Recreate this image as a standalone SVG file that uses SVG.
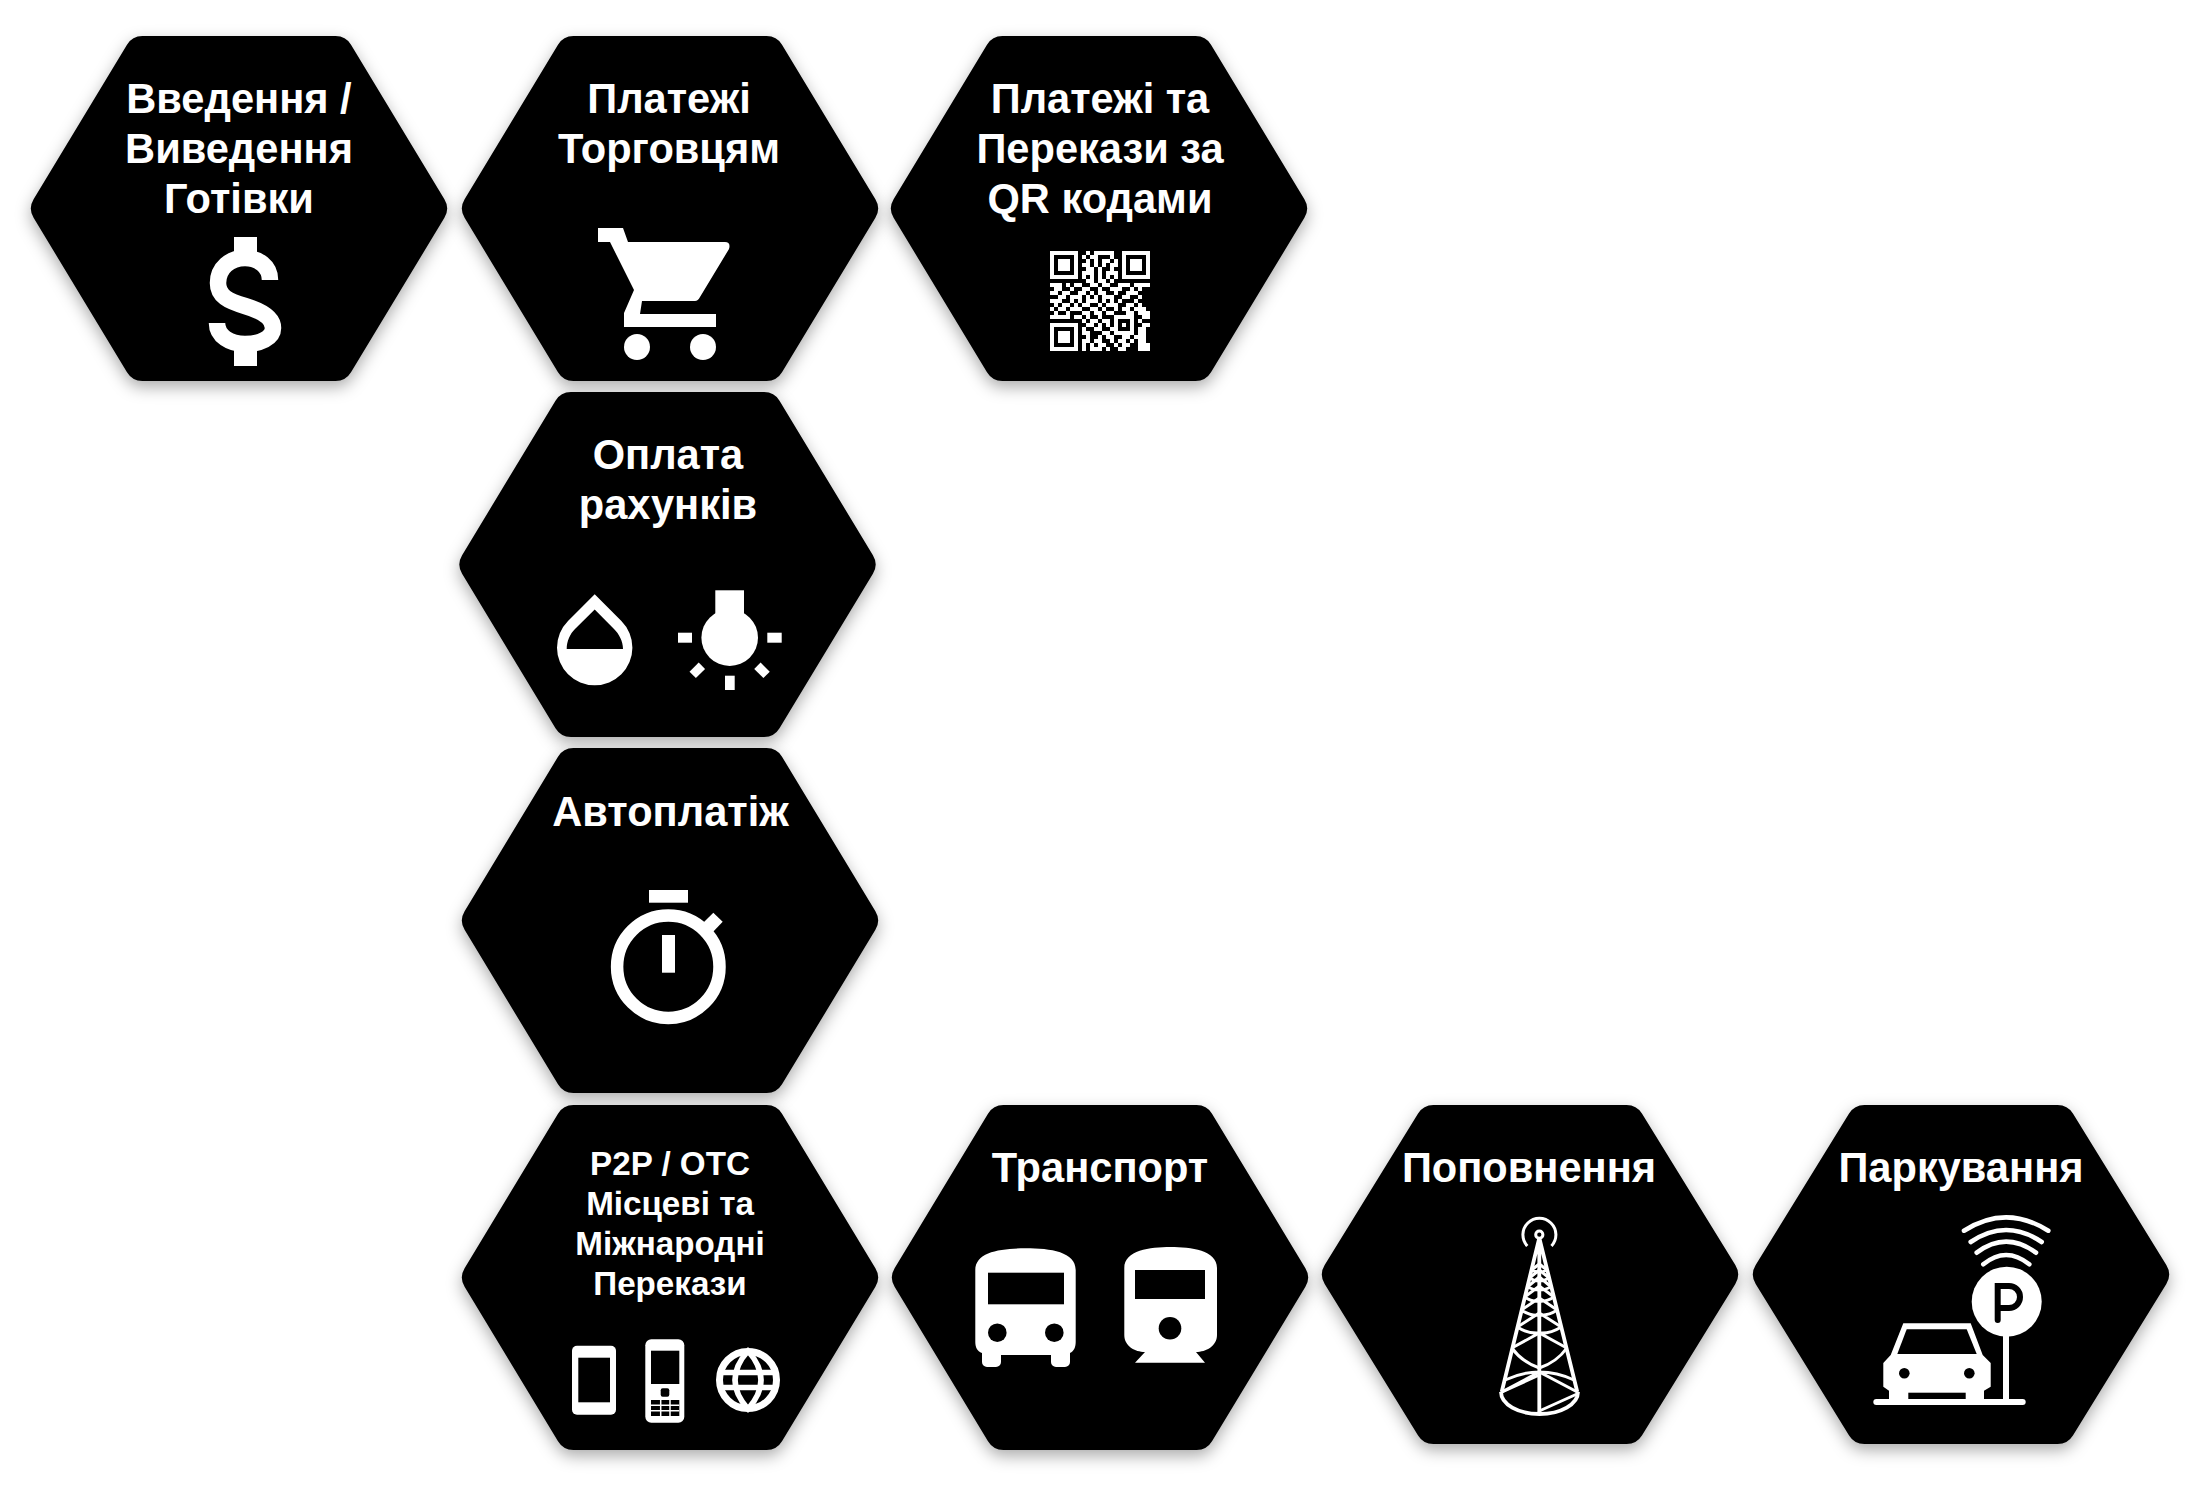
<svg xmlns="http://www.w3.org/2000/svg" width="2209" height="1494" viewBox="0 0 2209 1494">
<style>
.t{font-family:"Liberation Sans",Arial,sans-serif;font-weight:700;font-size:41.6px;fill:#fff;text-anchor:middle}
.s{font-size:33.2px}
.w{fill:#fff}
.k{fill:#000}
.hex{fill:#000;stroke:#000;stroke-width:36;stroke-linejoin:round;filter:url(#sh)}
.ln{fill:none;stroke:#fff}
</style>
<defs>
<filter id="sh" x="-15%" y="-15%" width="130%" height="135%"><feDropShadow dx="0" dy="6" stdDeviation="8" flood-color="#000" flood-opacity=".33"/></filter>
<polygon id="hexA" points="18,172.5 111.4,18 304.6,18 398,172.5 304.6,327 111.4,327"/>
<polygon id="hexB" points="18,169.5 111.4,18 304.6,18 398,169.5 304.6,321 111.4,321"/>
</defs>
<rect width="2209" height="1494" fill="#fff"/>
<g id="connectors"/>

<g id="n-cash">
<use href="#hexA" class="hex" x="31" y="36"/>
<text class="t" x="239" y="113">Введення /</text>
<text class="t" x="239" y="163">Виведення</text>
<text class="t" x="239" y="213">Готівки</text>
<rect class="w" x="234" y="237" width="23" height="19"/>
<rect class="w" x="234" y="347" width="23" height="19"/>
<path class="ln" stroke-width="16.5" d="M270 280C270 266 258 258 245 258C230 258 218 268 218 283C218 296 228 301 245 306C262 311 273 318 273 328C273 338 260 344 245 344C230 344 217 336 217 323"/>
</g>

<g id="n-merchant">
<use href="#hexA" class="hex" x="462" y="36"/>
<text class="t" x="669" y="113">Платежі</text>
<text class="t" x="669" y="163">Торговцям</text>
<path class="w" d="M598 228H623L628 242H725Q731 242 729 249L700 297Q698 301 695 301H642L640 314H716V327H624V313L634 290L610 242H598Z"/>
<circle class="w" cx="637" cy="347" r="13"/>
<circle class="w" cx="703" cy="347" r="13"/>
</g>

<g id="n-qr">
<use href="#hexA" class="hex" x="891" y="36"/>
<text class="t" x="1100" y="113">Платежі та</text>
<text class="t" x="1100" y="163">Перекази за</text>
<text class="t" x="1100" y="213">QR кодами</text>
<g transform="translate(1050 251) scale(4)" shape-rendering="crispEdges">
<path class="w" fill-rule="evenodd" d="M0 0h7v7h-7zM1 1v5h5v-5zM2 2h3v3h-3zM18 0h7v7h-7zM19 1v5h5v-5zM20 2h3v3h-3zM0 18h7v7h-7zM1 19v5h5v-5zM2 20h3v3h-3zM16 16h5v5h-5zM17 17v3h3v-3zM18 18h1v1h-1z"/>
<path class="ln" stroke-width="1" d="M9 .5h1M11 .5h5M8 1.5h1M10 1.5h2M15 1.5h1M9 2.5h1M11 2.5h1M13 2.5h2M16 2.5h1M8 3.5h2M11 3.5h1M13 3.5h1M15 3.5h2M9 4.5h2M12 4.5h1M15 4.5h1M8 5.5h3M12 5.5h1M14 5.5h3M8 6.5h1M10 6.5h1M12 6.5h1M14 6.5h1M16 6.5h1M9 7.5h2M12 7.5h2M15 7.5h1M0 8.5h3M4 8.5h1M6 8.5h2M10 8.5h2M13 8.5h2M17 8.5h3M21 8.5h4M1 9.5h2M5 9.5h1M8 9.5h2M12 9.5h1M15 9.5h3M20 9.5h1M22 9.5h1M0 10.5h2M3 10.5h2M7 10.5h2M10 10.5h1M12 10.5h2M16 10.5h1M19 10.5h3M2 11.5h2M5 11.5h3M9 11.5h1M11 11.5h1M13 11.5h3M18 11.5h2M22 11.5h1M0 12.5h3M5 12.5h1M7 12.5h1M9 12.5h3M13 12.5h1M15 12.5h1M17 12.5h1M21 12.5h1M1 13.5h1M3 13.5h2M6 13.5h1M8 13.5h2M12 13.5h1M14 13.5h3M19 13.5h2M22 13.5h1M0 14.5h1M2 14.5h2M5 14.5h3M10 14.5h2M13 14.5h1M16 14.5h1M18 14.5h2M21 14.5h3M1 15.5h1M4 15.5h1M8 15.5h2M11 15.5h2M14 15.5h2M19 15.5h2M22 15.5h3M0 16.5h5M6 16.5h2M9 16.5h1M12 16.5h1M23 16.5h2M8 17.5h1M10 17.5h2M13 17.5h2M22 17.5h1M9 18.5h2M12 18.5h1M14 18.5h1M23 18.5h2M8 19.5h1M11 19.5h2M15 19.5h1M22 19.5h2M8 20.5h2M13 20.5h2M22 20.5h2M9 21.5h1M12 21.5h1M14 21.5h2M18 21.5h2M21 21.5h3M8 22.5h2M11 22.5h2M15 22.5h1M17 22.5h2M20 22.5h1M22 22.5h2M8 23.5h1M10 23.5h1M12 23.5h2M16 23.5h1M18 23.5h2M22 23.5h3M8 24.5h1M10 24.5h3M14 24.5h1M17 24.5h2M22 24.5h3"/>
</g>
</g>

<g id="n-bills">
<use href="#hexA" class="hex" x="459.5" y="392"/>
<text class="t" x="668" y="469">Оплата</text>
<text class="t" x="668" y="519">рахунків</text>
<path class="w" fill-rule="evenodd" d="M594.7 594.3L568 621A37.7 37.7 0 1 0 621.4 621ZM594.7 609.5L575 629C570 634 566.7 641 566.7 649H623C623 641 619 634 614 629Z"/>
<rect class="w" x="715.3" y="590.3" width="28.7" height="24"/>
<circle class="w" cx="729.7" cy="637.7" r="28.3"/>
<rect class="w" x="678" y="632.7" width="14" height="10"/>
<rect class="w" x="767.3" y="632.7" width="14.4" height="10"/>
<rect class="w" x="725" y="675.7" width="9.7" height="14.3"/>
<rect class="w" x="-6.5" y="-4.5" width="13" height="9" transform="translate(697.3 670.3) rotate(-45)"/>
<rect class="w" x="-6.5" y="-4.5" width="13" height="9" transform="translate(762 670.3) rotate(45)"/>
</g>

<g id="n-auto">
<use href="#hexA" class="hex" x="462" y="748"/>
<text class="t" x="670.5" y="825.5">Автоплатіж</text>
<rect class="w" x="649" y="890" width="39" height="12.7"/>
<circle class="ln" stroke-width="12.5" cx="668.3" cy="966.7" r="51.2"/>
<rect class="w" x="662" y="935" width="13" height="37.7"/>
<polygon class="w" points="713.3,912.7 722.7,921.7 710,935 700,926"/>
</g>

<g id="n-p2p">
<use href="#hexA" class="hex" x="462" y="1105"/>
<text class="t s" x="670" y="1175">P2P / OTC</text>
<text class="t s" x="670" y="1215">Місцеві та</text>
<text class="t s" x="670" y="1255">Міжнародні</text>
<text class="t s" x="670" y="1295">Перекази</text>
<rect class="w" x="572" y="1345.7" width="44" height="69" rx="5"/>
<rect class="k" x="578.3" y="1357.7" width="31.7" height="44.6"/>
<rect class="w" x="645.3" y="1339.3" width="39" height="83.4" rx="6"/>
<rect class="k" x="651" y="1350.7" width="28.3" height="33.3"/>
<rect class="k" x="660.7" y="1388.3" width="8.6" height="8.4" rx="2"/>
<rect class="k" x="651" y="1400" width="28.3" height="16"/>
<path class="ln" stroke-width="1.5" d="M651 1405.3H679.3M651 1410.7H679.3M660.7 1400V1416M670 1400V1416"/>
<circle class="ln" stroke-width="7" cx="748" cy="1380" r="28.5"/>
<path class="ln" stroke-width="5.5" d="M722 1372.5H774M722 1387.5H774M748 1351Q722 1380 748 1409Q774 1380 748 1351Z"/>
</g>

<g id="n-transport">
<use href="#hexA" class="hex" x="892" y="1105"/>
<text class="t" x="1100" y="1181.5">Транспорт</text>
<path class="w" d="M975.3 1270C975.3 1252 1000 1248.3 1025.5 1248.3C1051 1248.3 1075.7 1252 1075.7 1270V1342C1075.7 1347 1074 1351 1070 1353V1362a5 5 0 0 1-5 5h-9a5 5 0 0 1-5-5V1355H1001V1362a5 5 0 0 1-5 5h-9a5 5 0 0 1-5-5V1353C977 1351 975.3 1347 975.3 1342Z"/>
<rect class="k" x="988" y="1272.7" width="76" height="31.6"/>
<circle class="k" cx="997.3" cy="1332.7" r="9.3"/>
<circle class="k" cx="1054.3" cy="1332.7" r="9.3"/>
<path class="w" d="M1124.3 1268C1124.3 1250 1150 1247 1170.5 1247C1191 1247 1217 1250 1217 1268V1335C1217 1346 1206 1352 1196 1352L1205 1362.7H1135L1145 1352C1135 1352 1124.3 1346 1124.3 1335Z"/>
<rect class="k" x="1135" y="1270" width="70" height="29"/>
<circle class="k" cx="1170" cy="1328.3" r="11.3"/>
</g>

<g id="n-topup">
<use href="#hexB" class="hex" x="1322" y="1105"/>
<text class="t" x="1529" y="1181.5">Поповнення</text>
<circle class="ln" stroke-width="3" cx="1539.3" cy="1234.7" r="3.6"/>
<path class="ln" stroke-width="3" d="M1527.3 1246A16.5 16.5 0 1 1 1551.5 1246"/>
<path class="ln" stroke-width="3.8" d="M1539.3 1238L1501.7 1392M1539.3 1238L1577.3 1392M1539.3 1238V1412M1501 1392A38.5 22 0 0 0 1578 1392"/>
<path class="ln" stroke-width="3" d="M1501.7 1392L1539.3 1372L1577.3 1392M1505 1380Q1522 1372 1539.3 1372Q1557 1372 1574 1380M1511.8 1348L1539.3 1333L1566.8 1348M1511.8 1348Q1522 1362 1539.3 1368Q1557 1362 1566.8 1348M1517.3 1327L1539.3 1313L1561.3 1327M1517.3 1327Q1528 1334 1539.3 1333Q1550 1334 1561.3 1327M1521.3 1310L1539.3 1298L1557.3 1310M1521.3 1310Q1530 1316 1539.3 1315Q1548 1316 1557.3 1310M1524.6 1297L1539.3 1286L1554 1297M1524.6 1297Q1532 1302 1539.3 1301Q1546 1302 1554 1297M1527.3 1287L1539.3 1277L1551.3 1287M1527.3 1287Q1533 1290 1539.3 1290Q1545 1290 1551.3 1287M1529.3 1278L1539.3 1270L1549.3 1278M1529.3 1278Q1534 1281 1539.3 1281Q1544 1281 1549.3 1278M1531.5 1270L1539.3 1264L1547 1270M1531.5 1270Q1535 1272 1539.3 1272Q1543 1272 1547 1270"/>
<path class="ln" stroke-width="3" d="M1502 1392L1539.3 1375M1539.3 1411L1577 1394"/>
</g>

<g id="n-parking">
<use href="#hexB" class="hex" x="1753" y="1105"/>
<text class="t" x="1961" y="1181.5">Паркування</text>
<path class="ln" stroke-width="4.6" stroke-linecap="round" d="M1964 1230.7Q2006 1204 2048.3 1230.7M1970.7 1242Q2006 1218 2041.7 1242M1976.7 1252.7Q2006 1230.7 2036 1252.7M1983.3 1264.3Q2006 1245.7 2029.3 1264.3"/>
<circle class="w" cx="2006.7" cy="1301.7" r="35"/>
<path fill="none" stroke="#000" stroke-width="6" stroke-linecap="round" d="M1997.7 1320V1286H2009A11 11 0 0 1 2009 1308H1997.7"/>
<rect class="w" x="2003" y="1333" width="6" height="70"/>
<rect class="w" x="1873.3" y="1399" width="152.4" height="6" rx="3"/>
<path class="w" d="M1903.3 1323.3H1970.7L1982.7 1355L1990.7 1363V1386.7L1984 1390.7V1401H1889V1390.7L1883.3 1386.7V1363L1890.7 1355Z"/>
<polygon class="k" points="1906.7,1329.3 1966.7,1329.3 1976.7,1354 1897.3,1354"/>
<rect class="k" x="1908.3" y="1392.7" width="57.4" height="6.3"/>
<circle class="k" cx="1904.3" cy="1373.3" r="5.3"/>
<circle class="k" cx="1969.3" cy="1373.3" r="5.3"/>
</g>
</svg>
